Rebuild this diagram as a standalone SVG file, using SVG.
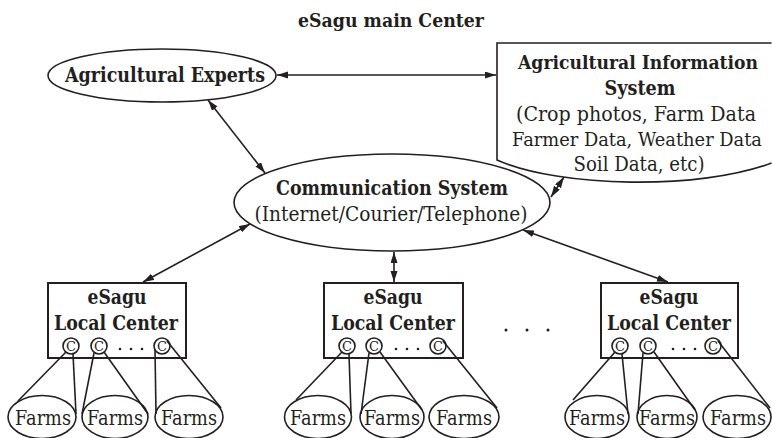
<svg xmlns="http://www.w3.org/2000/svg" width="772" height="438" viewBox="0 0 772 438">
<defs>
<style>
.b{font-family:"DejaVu Serif","Liberation Serif",serif;font-weight:bold;font-size:20px;fill:#231f20;text-anchor:middle}
.t{font-family:"DejaVu Serif","Liberation Serif",serif;font-weight:bold;font-size:18px;fill:#231f20;text-anchor:middle}
.r{font-family:"DejaVu Serif","Liberation Serif",serif;font-size:20px;fill:#231f20;text-anchor:middle}
.c{font-family:"DejaVu Serif","Liberation Serif",serif;font-size:13px;fill:#231f20;text-anchor:middle}
.s{fill:#fff;stroke:#231f20;stroke-width:1.6}
.e{fill:none;stroke:#231f20;stroke-width:1.6}
.box{fill:#fff;stroke:#231f20;stroke-width:2}
.ln{stroke:#231f20;stroke-width:1.6;fill:none}
.ar{stroke:#231f20;stroke-width:1.6;fill:none;marker-start:url(#ah);marker-end:url(#ah)}
.dot{fill:#231f20}
</style>
<marker id="ah" markerUnits="userSpaceOnUse" markerWidth="12" markerHeight="8" refX="11" refY="3.5" orient="auto-start-reverse">
<path d="M0,0 L11,3.5 L0,7 Z" fill="#231f20"/>
</marker>
</defs>
<rect width="772" height="438" fill="#fff"/>

<text class="t" x="391" y="27" textLength="186" lengthAdjust="spacingAndGlyphs">eSagu main Center</text>

<g id="connectors">
<line class="ar" x1="277" y1="75" x2="496" y2="75"/>
<line class="ar" x1="208" y1="100" x2="265" y2="173"/>
<line class="ar" x1="564" y1="177" x2="551" y2="197"/>
<line class="ar" x1="250" y1="224" x2="143" y2="282"/>
<line class="ar" x1="394" y1="252" x2="394" y2="282"/>
<line class="ar" x1="523" y1="230" x2="668" y2="282"/>
</g>

<g id="experts">
<ellipse class="s" cx="162" cy="75.5" rx="114" ry="26.5"/>
<text class="b" x="165" y="82" textLength="200" lengthAdjust="spacingAndGlyphs">Agricultural Experts</text>
</g>

<g id="ais">
<path class="s" d="M771.5,43 H497 V160 C560,188 700,190 771.5,163"/>
<text class="b" x="638" y="69" textLength="240" lengthAdjust="spacingAndGlyphs" style="font-size:18px">Agricultural Information</text>
<text class="b" x="640" y="95" textLength="71" lengthAdjust="spacingAndGlyphs">System</text>
<text class="r" x="636" y="121" textLength="240" lengthAdjust="spacingAndGlyphs">(Crop photos, Farm Data</text>
<text class="r" x="637" y="146" textLength="250" lengthAdjust="spacingAndGlyphs" style="font-size:18px">Farmer Data, Weather Data</text>
<text class="r" x="639" y="171" textLength="131" lengthAdjust="spacingAndGlyphs">Soil Data, etc)</text>
</g>

<g id="comm">
<ellipse class="s" cx="392" cy="202.5" rx="158" ry="48.5"/>
<text class="b" x="392" y="195" textLength="232" lengthAdjust="spacingAndGlyphs">Communication System</text>
<text class="r" x="391" y="221" textLength="273" lengthAdjust="spacingAndGlyphs">(Internet/Courier/Telephone)</text>
</g>

<g id="local1">
<rect class="box" x="48" y="283" width="138" height="75"/>
<text class="b" x="117" y="304" textLength="59" lengthAdjust="spacingAndGlyphs">eSagu</text>
<text class="b" x="116" y="330" textLength="124" lengthAdjust="spacingAndGlyphs">Local Center</text>
<circle class="s" cx="71" cy="346" r="8"/><text class="c" x="71" y="350.5">C</text>
<circle class="s" cx="99" cy="346" r="8"/><text class="c" x="99" y="350.5">C</text>
<circle class="s" cx="162" cy="346" r="8"/><text class="c" x="162" y="350.5">C</text>
<circle class="dot" cx="120" cy="349" r="1.3"/><circle class="dot" cx="131" cy="349" r="1.3"/><circle class="dot" cx="142" cy="349" r="1.3"/>
</g>
<g id="farms1">
<line class="ln" x1="66" y1="352" x2="18" y2="401"/>
<line class="ln" x1="73" y1="354" x2="76" y2="414"/>
<line class="ln" x1="94" y1="353" x2="82" y2="414"/>
<line class="ln" x1="104" y1="352" x2="148" y2="414"/>
<line class="ln" x1="155" y1="349" x2="156" y2="414"/>
<line class="ln" x1="167" y1="341" x2="221" y2="408"/>
<ellipse class="e" cx="42" cy="417" rx="34" ry="21.5"/>
<ellipse class="e" cx="115" cy="417" rx="33" ry="21.5"/>
<ellipse class="e" cx="189" cy="417" rx="34" ry="21.5"/>
<text class="r" x="43" y="425" textLength="56" lengthAdjust="spacingAndGlyphs">Farms</text>
<text class="r" x="115" y="425" textLength="56" lengthAdjust="spacingAndGlyphs">Farms</text>
<text class="r" x="189" y="425" textLength="56" lengthAdjust="spacingAndGlyphs">Farms</text>
</g>

<g id="local2">
<rect class="box" x="324" y="283" width="139" height="75"/>
<text class="b" x="393" y="304" textLength="59" lengthAdjust="spacingAndGlyphs">eSagu</text>
<text class="b" x="393" y="330" textLength="124" lengthAdjust="spacingAndGlyphs">Local Center</text>
<circle class="s" cx="347" cy="346" r="8"/><text class="c" x="347" y="350.5">C</text>
<circle class="s" cx="374" cy="346" r="8"/><text class="c" x="374" y="350.5">C</text>
<circle class="s" cx="438" cy="346" r="8"/><text class="c" x="438" y="350.5">C</text>
<circle class="dot" cx="396" cy="349" r="1.3"/><circle class="dot" cx="407" cy="349" r="1.3"/><circle class="dot" cx="418" cy="349" r="1.3"/>
</g>
<g id="farms2">
<line class="ln" x1="342" y1="352" x2="296" y2="400"/>
<line class="ln" x1="349" y1="354" x2="351" y2="414"/>
<line class="ln" x1="369" y1="353" x2="361" y2="414"/>
<line class="ln" x1="380" y1="352" x2="422" y2="410"/>
<line class="ln" x1="443" y1="341" x2="497" y2="408"/>
<ellipse class="e" cx="318" cy="417" rx="33.5" ry="21.5"/>
<ellipse class="e" cx="392" cy="417" rx="32" ry="21.5"/>
<ellipse class="e" cx="464" cy="417" rx="35" ry="21.5"/>
<text class="r" x="318" y="425" textLength="56" lengthAdjust="spacingAndGlyphs">Farms</text>
<text class="r" x="392" y="425" textLength="56" lengthAdjust="spacingAndGlyphs">Farms</text>
<text class="r" x="464" y="425" textLength="56" lengthAdjust="spacingAndGlyphs">Farms</text>
</g>

<g id="ellipsis">
<circle class="dot" cx="506" cy="330" r="1.5"/><circle class="dot" cx="527" cy="330" r="1.5"/><circle class="dot" cx="548" cy="330" r="1.5"/>
</g>

<g id="local3">
<rect class="box" x="601" y="283" width="137" height="75"/>
<text class="b" x="669" y="304" textLength="59" lengthAdjust="spacingAndGlyphs">eSagu</text>
<text class="b" x="669" y="330" textLength="124" lengthAdjust="spacingAndGlyphs">Local Center</text>
<circle class="s" cx="620" cy="346" r="8"/><text class="c" x="620" y="350.5">C</text>
<circle class="s" cx="648" cy="346" r="8"/><text class="c" x="648" y="350.5">C</text>
<circle class="s" cx="713" cy="346" r="8"/><text class="c" x="713" y="350.5">C</text>
<circle class="dot" cx="673" cy="349" r="1.3"/><circle class="dot" cx="684" cy="349" r="1.3"/><circle class="dot" cx="695" cy="349" r="1.3"/>
</g>
<g id="farms3">
<line class="ln" x1="615" y1="352" x2="573" y2="400"/>
<line class="ln" x1="622" y1="354" x2="628" y2="414"/>
<line class="ln" x1="643" y1="353" x2="638" y2="414"/>
<line class="ln" x1="654" y1="352" x2="695" y2="410"/>
<line class="ln" x1="718" y1="341" x2="770" y2="408"/>
<ellipse class="e" cx="597" cy="417" rx="32" ry="21.5"/>
<ellipse class="e" cx="667" cy="417" rx="30" ry="21.5"/>
<ellipse class="e" cx="737" cy="417" rx="34" ry="21.5"/>
<text class="r" x="597" y="425" textLength="56" lengthAdjust="spacingAndGlyphs">Farms</text>
<text class="r" x="667" y="425" textLength="56" lengthAdjust="spacingAndGlyphs">Farms</text>
<text class="r" x="738" y="425" textLength="56" lengthAdjust="spacingAndGlyphs">Farms</text>
</g>
</svg>
